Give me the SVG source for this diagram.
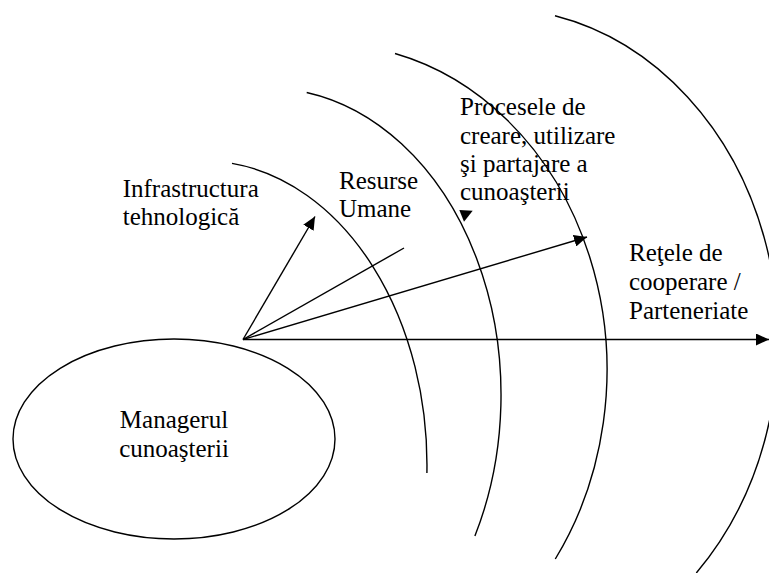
<svg xmlns="http://www.w3.org/2000/svg" width="769" height="573" viewBox="0 0 769 573">
<style>
.ln{fill:none;stroke:#000;stroke-width:1.4}
.t{font-family:"Liberation Serif","Times New Roman",serif;font-size:25px;fill:#000}
</style>
<defs>
<marker id="ah" viewBox="0 0 13 12" refX="13" refY="6" markerWidth="13" markerHeight="12" markerUnits="userSpaceOnUse" orient="auto">
<path d="M0,0 L13,6 L0,12 Z" fill="#000"/>
</marker>
</defs>
<rect width="769" height="573" fill="#fff"/>
<g id="rings">
<path class="ln" d="M232,163.4 A223,304 0 0 1 426.9,473"/>
<path class="ln" d="M306.7,92.5 A234,307 0 0 1 474.9,536"/>
<path class="ln" d="M395,53.5 A279,326 0 0 1 555.3,559"/>
<path class="ln" d="M555,15.7 A284,332 0 0 1 696.3,573"/>
</g>
<g id="manager">
<ellipse class="ln" cx="174" cy="439" rx="161" ry="100"/>
<text class="t" x="174" y="428" text-anchor="middle">Managerul</text>
<text class="t" x="174" y="456.5" text-anchor="middle">cunoaşterii</text>
</g>
<g id="infrastructura">
<text class="t" x="122.7" y="196.5">Infrastructura</text>
<text class="t" x="122.7" y="224.5">tehnologică</text>
</g>
<g id="resurse">
<text class="t" x="339" y="188.5">Resurse</text>
<text class="t" x="339" y="217">Umane</text>
</g>
<g id="procese">
<text class="t" x="460" y="115">Procesele de</text>
<text class="t" x="460" y="143.5">creare, utilizare</text>
<text class="t" x="460" y="171.5">şi partajare a</text>
<text class="t" x="460" y="200">cunoaşterii</text>
<path d="M459.3,210 L472.7,210.7 L464,221.7 Z" fill="#000"/>
</g>
<g id="retele">
<text class="t" x="629" y="260.5">Reţele de</text>
<text class="t" x="629" y="289.5">cooperare /</text>
<text class="t" x="629" y="318.5">Parteneriate</text>
</g>
<g id="connectors">
<line class="ln" x1="243" y1="339.5" x2="315" y2="216.5" marker-end="url(#ah)"/>
<line class="ln" x1="243" y1="339.5" x2="404" y2="248"/>
<line class="ln" x1="243" y1="339.5" x2="587" y2="237" marker-end="url(#ah)"/>
<line class="ln" x1="243" y1="339.5" x2="769" y2="339.5" marker-end="url(#ah)"/>
</g>
</svg>
